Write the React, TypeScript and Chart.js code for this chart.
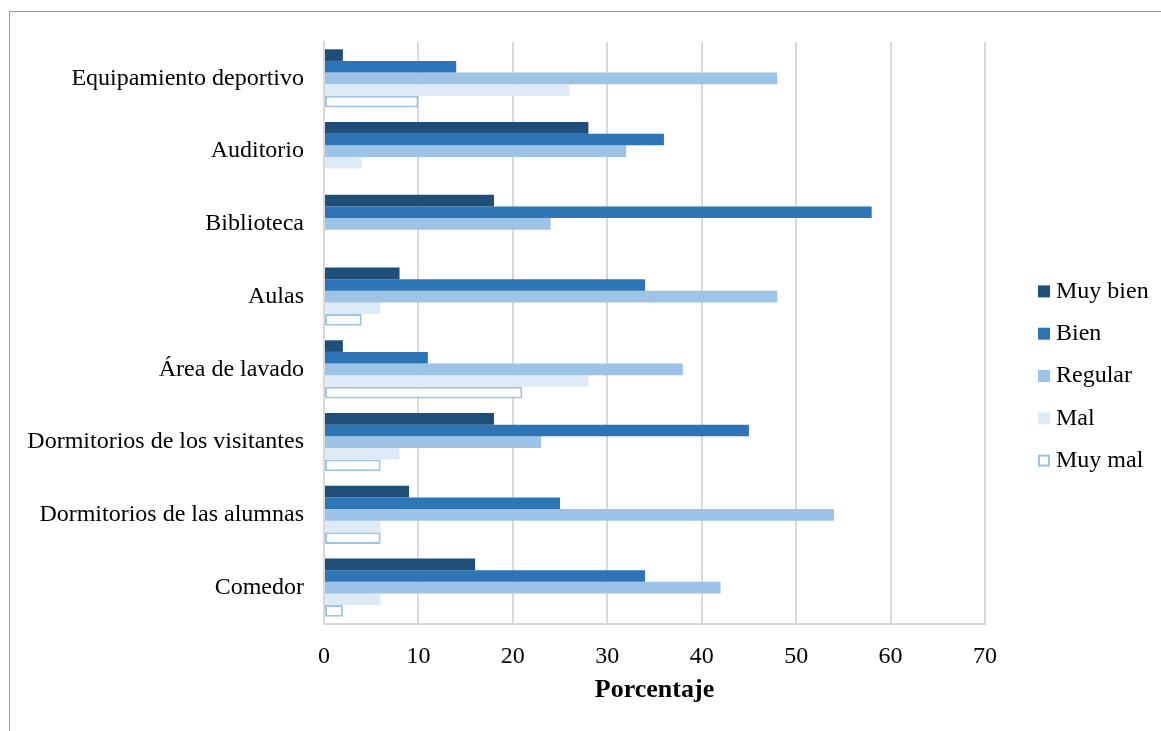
import React, { useEffect, useRef } from "react";
import { Chart, registerables } from "chart.js";

Chart.register(...registerables);

// Facilities rated by respondents (percentage per rating)
const categories = [
  "Equipamiento deportivo",
  "Auditorio",
  "Biblioteca",
  "Aulas",
  "Área de lavado",
  "Dormitorios de los visitantes",
  "Dormitorios de las alumnas",
  "Comedor",
];
const muyBien = [2, 28, 18, 8, 2, 18, 9, 16];
const bien = [14, 36, 58, 34, 11, 45, 25, 34];
const regular = [48, 32, 24, 48, 38, 23, 54, 42];
const mal = [26, 4, 0, 6, 28, 8, 6, 6];
const muyMal = [10, 0, 0, 4, 21, 6, 6, 2];
const xMin = 0;
const xMax = 70;
const xStep = 10;
const axisTitle = "Porcentaje";

const FONT = "'Liberation Serif', 'Times New Roman', serif";
const GRID = "#d9d9d9";

// Vertical legend drawn to the right of the plot area
const sideLegend = {
  id: "sideLegend",
  afterDraw(chart: any) {
    const { ctx, chartArea } = chart;
    const sets = chart.data.datasets;
    const box = 12;
    const step = 42.3;
    const x = chartArea.right + 53;
    const midY = 376;
    const y0 = midY - ((sets.length - 1) / 2) * step;
    ctx.save();
    ctx.font = `24px ${FONT}`;
    ctx.textBaseline = "middle";
    ctx.textAlign = "left";
    sets.forEach((ds: any, i: number) => {
      const cy = y0 + i * step;
      const bw = ds.borderWidth || 0;
      ctx.fillStyle = ds.backgroundColor;
      ctx.fillRect(x, cy - box / 2, box, box);
      if (bw > 0) {
        ctx.strokeStyle = ds.borderColor;
        ctx.lineWidth = bw;
        ctx.strokeRect(x + bw / 2, cy - box / 2 + bw / 2, box - bw, box - bw);
      }
      ctx.fillStyle = "#000";
      ctx.fillText(ds.label, x + box + 6, cy);
    });
    ctx.restore();
  },
};

export default function App() {
  const canvasRef = useRef<HTMLCanvasElement | null>(null);

  useEffect(() => {
    if (!canvasRef.current) return;
    const chart = new Chart(canvasRef.current, {
      type: "bar",
      data: {
        labels: categories,
        datasets: [
          { label: "Muy bien", data: muyBien, backgroundColor: "#1f4e79", borderWidth: 0 },
          { label: "Bien", data: bien, backgroundColor: "#2e75b6", borderWidth: 0 },
          { label: "Regular", data: regular, backgroundColor: "#9dc3e6", borderWidth: 0 },
          { label: "Mal", data: mal, backgroundColor: "#deebf7", borderWidth: 0 },
          {
            label: "Muy mal",
            data: muyMal,
            backgroundColor: "#ffffff",
            borderColor: "#9dc3e6",
            borderWidth: 2,
            borderSkipped: false,
          },
        ],
      },
      options: {
        indexAxis: "y",
        animation: false,
        responsive: false,
        maintainAspectRatio: false,
        layout: { padding: { top: 42, bottom: 21, left: 0, right: 176 } },
        datasets: {
          bar: { categoryPercentage: 0.8, barPercentage: 1.0 },
        },
        plugins: {
          tooltip: { enabled: false },
          legend: { display: false },
        },
        scales: {
          x: {
            type: "linear",
            min: xMin,
            max: xMax,
            ticks: {
              stepSize: xStep,
              padding: 18,
              color: "#000",
              font: { family: FONT, size: 24 },
            },
            grid: { color: GRID, lineWidth: 2, drawTicks: false },
            border: { display: true, color: GRID, width: 2 },
            title: {
              display: true,
              text: axisTitle,
              color: "#000",
              font: { family: FONT, size: 26, weight: "bold" },
              padding: { top: 2, bottom: 4 },
            },
            afterFit: (scale: any) => {
              scale.height = 86;
            },
          },
          y: {
            type: "category",
            ticks: {
              padding: 20,
              color: "#000",
              font: { family: FONT, size: 24 },
            },
            grid: { display: false, drawTicks: false },
            border: { display: true, color: GRID, width: 2 },
            afterFit: (scale: any) => {
              scale.width = 324;
            },
          },
        },
      },
      plugins: [sideLegend],
    });
    return () => chart.destroy();
  }, []);

  return (
    <div
      style={{
        position: "fixed",
        left: 0,
        top: 0,
        width: 1161,
        height: 731,
        overflow: "hidden",
        background: "#fff",
      }}
    >
      <div
        style={{
          position: "absolute",
          left: 9,
          top: 11,
          width: 1300,
          height: 900,
          borderTop: "1px solid #9a9a9a",
          borderLeft: "1px solid #9a9a9a",
        }}
      />
      <canvas
        ref={canvasRef}
        width={1161}
        height={731}
        style={{ position: "absolute", left: 0, top: 0 }}
      />
    </div>
  );
}
